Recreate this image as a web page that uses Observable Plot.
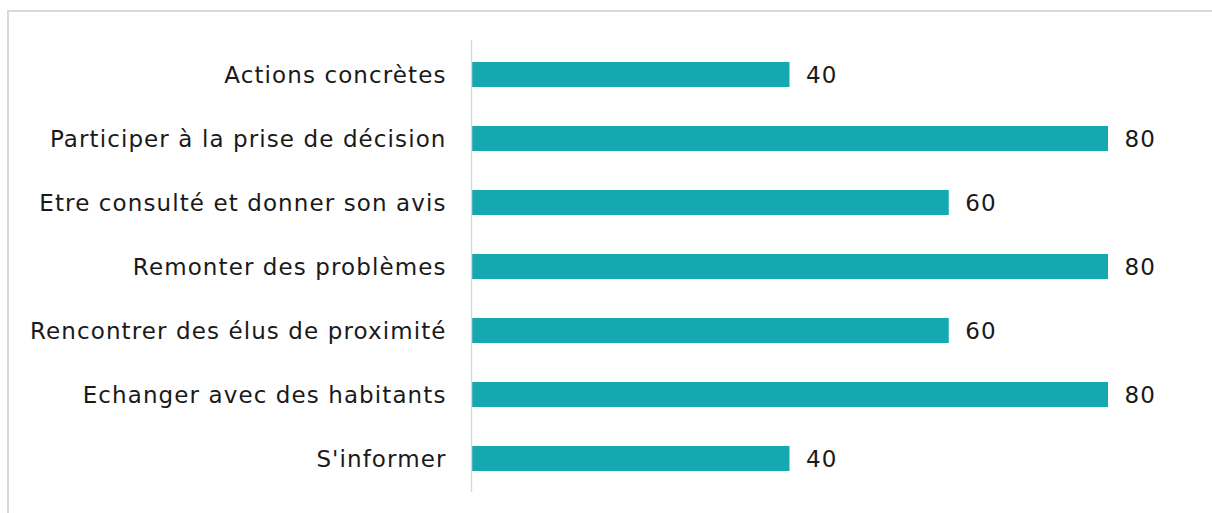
<!DOCTYPE html>
<html><head><meta charset="utf-8">
<script src="https://cdn.jsdelivr.net/npm/d3@7"></script>
<script src="https://cdn.jsdelivr.net/npm/@observablehq/plot@0.6"></script>
<style>
html,body{margin:0;padding:0;background:#fff;overflow:hidden;width:1212px;height:513px}
#frame{position:absolute;left:7px;top:10px;width:1210px;height:520px;border:2px solid #d9d9d9;box-sizing:border-box}
#chart{position:absolute;left:0;top:0}
#chart svg text{letter-spacing:1.1px}
</style></head><body>
<div id="frame"></div>
<div id="chart"></div>
<script>
const categories = ["Actions concrètes","Participer à la prise de décision","Etre consulté et donner son avis","Remonter des problèmes","Rencontrer des élus de proximité","Echanger avec des habitants","S'informer"];
const values = [40,80,60,80,60,80,40];
const data = categories.map((c,i)=>({category:c,value:values[i]}));
const font = "'DejaVu Sans', sans-serif";
const chart = Plot.plot({
  width:1212, height:513,
  marginLeft:471, marginRight:104, marginTop:40, marginBottom:21,
  style:{fontFamily:font, fontSize:"23px", color:"#1a1a1a", background:"transparent"},
  x:{domain:[0,80], axis:null},
  y:{domain:categories, paddingInner:0.61, paddingOuter:0.305, align:0.5, label:null, axis:null},
  marks:[
    Plot.barX(data,{y:"category",x:"value",fill:"#16A8B1"}),
    Plot.ruleX([0],{stroke:"#d9d9d9",strokeWidth:1.5}),
    Plot.text(data,{y:"category",x:"value",text:d=>String(d.value),textAnchor:"start",dx:16,dy:1,fontSize:23,fill:"#1a1a1a"}),
    Plot.axisY({tickSize:0,tickPadding:25,fontSize:23,label:null,fill:"#1a1a1a",dy:1})
  ]
});
document.getElementById("chart").appendChild(chart);
</script></body></html>
